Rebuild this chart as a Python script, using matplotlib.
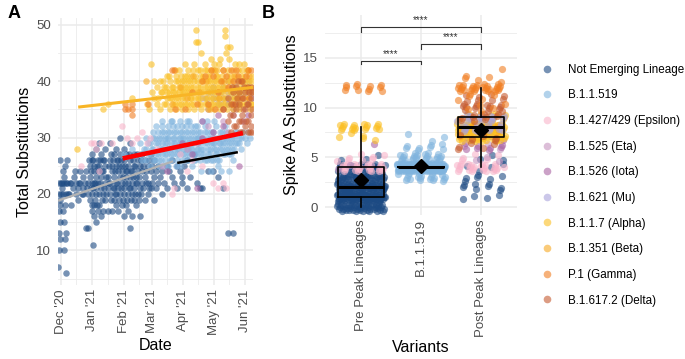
import numpy as np
import pandas as pd
import matplotlib
matplotlib.use("Agg")
import matplotlib.pyplot as plt
import matplotlib.dates as mdates
from matplotlib.lines import Line2D

plt.rcParams['font.family'] = ['Liberation Sans', 'DejaVu Sans']

# ---------------- data ----------------
lineages = ["Not Emerging Lineage", "B.1.1.519", "B.1.427/429 (Epsilon)", "B.1.525 (Eta)",
            "B.1.526 (Iota)", "B.1.621 (Mu)", "B.1.1.7 (Alpha)", "B.1.351 (Beta)",
            "P.1 (Gamma)", "B.1.617.2 (Delta)"]
colors = ["#1C4A83", "#80B4DE", "#F9B4CA", "#C694BF", "#A962A2", "#A9A2DB",
          "#FBBF22", "#F8A922", "#F17E22", "#C65B30"]

start_date = "2020-12-01"   # panel A: (days since start_date, total substitutions)
ne_pts = [(-3, 7), (-2, 10), (-2, 13), (-2, 17), (-2, 20), (-2, 22), (-1, 12), (-1, 15), (-1, 18),
          (-1, 19), (-1, 26), (1, 21), (1, 22), (2, 17), (2, 20), (2, 24), (3, 10), (3, 15), (3, 22),
          (3, 23), (4, 12), (4, 18), (4, 25), (5, 6), (5, 13), (5, 20), (5, 22), (6, 22), (6, 26),
          (8, 20), (10, 18), (10, 22), (13, 23), (15, 22), (15, 20), (17, 19), (17, 21), (19, 24),
          (19, 22), (22, 21), (22, 20), (22, 23), (25, 14), (25, 24), (27, 14), (27, 22), (27, 20),
          (29, 19), (29, 23), (29, 25), (31, 22), (31, 20), (31, 17), (31, 18), (31, 26), (31, 27),
          (32, 11), (32, 21), (32, 26), (33, 18), (33, 16), (33, 22), (33, 24), (33, 25), (35, 15),
          (35, 20), (35, 21), (35, 23), (35, 28), (37, 17), (37, 22), (37, 24), (37, 26), (38, 20),
          (38, 18), (38, 25), (38, 29), (40, 16), (40, 21), (40, 23), (40, 27), (42, 17), (42, 20),
          (42, 24), (42, 26), (44, 19), (44, 22), (44, 25), (44, 28), (46, 17), (46, 21), (46, 23),
          (48, 20), (48, 22), (48, 26), (48, 29), (50, 17), (50, 24), (50, 25), (52, 19), (52, 21),
          (52, 23), (52, 27), (54, 18), (54, 20), (54, 22), (54, 25), (54, 28), (56, 17), (56, 21),
          (56, 24), (56, 26), (58, 20), (58, 23), (58, 27), (58, 30), (60, 18), (60, 22), (60, 24),
          (60, 25), (62, 16), (62, 20), (62, 21), (62, 26), (62, 28), (64, 18), (64, 23), (64, 24),
          (64, 27), (66, 17), (66, 20), (66, 22), (66, 25), (68, 14), (68, 21), (68, 23), (68, 26),
          (68, 29), (70, 16), (70, 20), (70, 22), (70, 24), (72, 19), (72, 21), (72, 25), (72, 27),
          (74, 18), (74, 22), (74, 23), (76, 20), (76, 24), (76, 26), (78, 16), (78, 21), (78, 25),
          (80, 22), (80, 24), (80, 27), (83, 19), (83, 23), (83, 26), (86, 20), (86, 22), (86, 25),
          (89, 21), (89, 24), (89, 27), (92, 19), (92, 23), (92, 26), (96, 22), (96, 25), (100, 20),
          (100, 24), (105, 21), (105, 25), (110, 23), (110, 26), (115, 21), (115, 25), (120, 22),
          (120, 23), (125, 21), (125, 26), (132, 27), (140, 21), (150, 24), (165, 13), (170, 13),
          (30, 21), (30, 24), (34, 19), (34, 22), (36, 18), (36, 25), (39, 22), (39, 26), (41, 19),
          (41, 24), (43, 21), (43, 26), (45, 20), (45, 23), (47, 22), (47, 25), (49, 19), (49, 27),
          (51, 21), (51, 26), (53, 20), (53, 24), (55, 22), (55, 26), (57, 19), (57, 25), (59, 21),
          (59, 26), (61, 19), (61, 23), (63, 22), (63, 25), (65, 19), (65, 24), (67, 21), (67, 27),
          (69, 19), (69, 24), (71, 23), (71, 26), (73, 20), (73, 25), (75, 22), (75, 27), (77, 19),
          (77, 23), (79, 20), (79, 26), (81, 21), (81, 25), (84, 22), (84, 24), (87, 21), (87, 26),
          (90, 22), (90, 25), (94, 21), (94, 24), (98, 23), (102, 22), (107, 24), (112, 22),
          (118, 24), (122, 25), (128, 23), (135, 22), (138, 21), (145, 24), (155, 23), (160, 21),
          (12, 21), (14, 24), (18, 22), (21, 20), (24, 22), (26, 21), (28, 26), (7, 20), (9, 22),
          (0, 22), (0, 20)]
b519_pts = [(62, 27), (70, 28), (78, 27), (78, 29), (84, 26), (84, 28), (84, 30), (88, 25), (88, 27),
            (88, 29), (91, 26), (91, 28), (91, 30), (91, 31), (94, 27), (94, 29), (94, 32), (97, 25),
            (97, 26), (97, 28), (97, 30), (100, 27), (100, 28), (100, 29), (100, 31), (100, 33),
            (103, 26), (103, 27), (103, 29), (103, 30), (106, 25), (106, 28), (106, 30), (106, 31),
            (106, 32), (109, 26), (109, 27), (109, 29), (109, 33), (112, 28), (112, 29), (112, 30),
            (112, 31), (115, 26), (115, 27), (115, 28), (115, 32), (118, 25), (118, 29), (118, 30),
            (118, 31), (118, 33), (121, 27), (121, 28), (121, 29), (121, 30), (124, 26), (124, 28),
            (124, 31), (124, 32), (127, 27), (127, 29), (127, 30), (127, 33), (130, 25), (130, 28),
            (130, 29), (130, 31), (133, 26), (133, 27), (133, 30), (133, 32), (136, 28), (136, 29),
            (136, 30), (136, 31), (139, 24), (139, 27), (139, 28), (139, 30), (142, 26), (142, 29),
            (142, 31), (142, 32), (145, 27), (145, 28), (145, 30), (148, 24), (148, 26), (148, 29),
            (148, 31), (151, 28), (151, 29), (151, 30), (151, 33), (154, 26), (154, 27), (154, 30),
            (157, 28), (157, 29), (157, 31), (160, 27), (160, 29), (160, 30), (163, 28), (163, 30),
            (163, 31), (166, 24), (166, 27), (166, 29), (169, 28), (169, 30), (172, 29), (172, 31),
            (176, 30), (176, 29), (182, 30), (187, 30),
            (80, 26), (82, 28), (86, 27), (86, 29), (90, 28), (93, 26), (93, 30), (96, 27), (96, 29),
            (96, 31), (99, 26), (99, 28), (99, 30), (102, 28), (102, 31), (102, 25), (105, 27),
            (105, 29), (105, 30), (108, 26), (108, 28), (108, 31), (111, 27), (111, 30), (111, 32),
            (114, 25), (114, 29), (114, 31), (117, 27), (117, 28), (117, 30), (120, 26), (120, 29),
            (120, 31), (120, 32), (123, 27), (123, 30), (126, 26), (126, 28), (126, 29), (126, 31),
            (129, 27), (129, 28), (129, 30), (129, 32), (132, 26), (132, 29), (132, 31), (135, 27),
            (135, 28), (135, 30), (135, 32), (138, 26), (138, 29), (138, 31), (141, 27), (141, 28),
            (141, 30), (144, 26), (144, 29), (144, 31), (144, 33), (147, 27), (147, 28), (147, 30),
            (150, 26), (150, 29), (150, 31), (153, 27), (153, 28), (153, 32), (156, 26), (156, 29),
            (156, 30), (159, 28), (159, 31), (162, 27), (162, 29), (162, 32), (165, 28), (165, 30),
            (168, 27), (168, 29), (171, 28), (171, 30), (174, 29), (174, 31), (178, 28), (178, 30),
            (180, 31), (184, 29), (185, 31), (170, 26), (158, 24), (155, 25), (100, 32), (110, 33),
            (125, 33), (140, 33)]
eps_pts = [(20, 25), (30, 29), (33, 29), (35, 28), (38, 24), (40, 29), (50, 29), (60, 32), (65, 30),
           (70, 29), (75, 30), (80, 31), (85, 29), (88, 30), (95, 28), (110, 20), (112, 21),
           (118, 27), (125, 24), (130, 26), (140, 25), (150, 22), (155, 21), (160, 22), (163, 21)]
eta_pts = [(100, 25), (125, 28), (135, 29), (145, 32), (150, 30), (160, 33), (165, 31), (170, 34)]
iota_pts = [(105, 24), (120, 29), (130, 27), (135, 21), (140, 30), (140, 33), (150, 31), (155, 34),
            (160, 32), (170, 35), (176, 25), (180, 33), (145, 35), (165, 36), (185, 34)]
mu_pts = [(140, 37), (145, 38), (145, 36), (150, 39), (150, 37), (155, 36), (155, 38), (160, 37),
          (160, 39), (165, 36), (165, 38), (165, 40), (170, 37), (170, 39), (175, 36), (175, 38),
          (180, 37), (180, 39), (185, 36), (185, 38), (185, 40), (189, 37),
          (143, 37), (148, 38), (153, 37), (158, 38), (163, 37), (168, 38), (173, 37), (178, 38),
          (183, 37), (188, 38), (158, 36), (172, 39)]
alpha_pts = [(16, 28), (42, 35), (46, 36), (70, 37), (85, 36), (87, 35), (89, 43), (90, 38), (92, 37),
             (92, 40), (95, 39), (95, 36), (98, 40), (98, 35), (100, 38), (102, 36), (102, 39),
             (105, 37), (105, 38), (105, 41), (108, 35), (108, 37), (108, 40), (111, 36), (111, 38),
             (111, 39), (114, 35), (114, 37), (114, 40), (114, 41), (117, 36), (117, 38), (117, 39),
             (117, 42), (120, 35), (120, 37), (120, 38), (120, 40), (123, 36), (123, 37), (123, 39),
             (123, 41), (123, 43), (126, 35), (126, 38), (126, 40), (126, 42), (129, 36), (129, 37),
             (129, 39), (129, 41), (132, 35), (132, 38), (132, 40), (132, 43), (134, 49), (134, 47),
             (136, 36), (136, 37), (136, 39), (136, 42), (136, 47), (139, 35), (139, 38), (139, 40),
             (139, 41), (139, 45), (142, 36), (142, 37), (142, 39), (142, 42), (142, 43), (145, 35),
             (145, 38), (145, 40), (145, 41), (148, 36), (148, 37), (148, 39), (148, 42), (148, 44),
             (151, 35), (151, 38), (151, 40), (151, 43), (154, 36), (154, 37), (154, 39), (154, 41),
             (154, 42), (157, 35), (157, 38), (157, 40), (157, 44), (160, 36), (160, 37), (160, 39),
             (160, 42), (162, 48), (162, 49), (164, 35), (164, 38), (164, 41), (164, 46), (167, 36),
             (167, 37), (167, 40), (167, 46), (170, 35), (170, 38), (170, 39), (170, 42), (173, 36),
             (173, 37), (173, 41), (176, 35), (176, 38), (176, 40), (176, 43), (179, 36), (179, 39),
             (179, 42), (182, 37), (182, 40), (182, 41), (185, 38), (185, 39), (185, 42), (188, 36),
             (188, 40),
             (96, 37), (99, 38), (101, 40), (104, 36), (104, 39), (107, 38), (107, 41), (110, 37),
             (110, 39), (113, 36), (113, 38), (113, 42), (116, 37), (116, 40), (119, 36), (119, 39),
             (119, 41), (122, 38), (122, 40), (125, 36), (125, 39), (125, 41), (128, 37), (128, 38),
             (128, 40), (131, 36), (131, 39), (131, 42), (133, 37), (133, 41), (135, 38), (135, 40),
             (138, 36), (138, 37), (138, 39), (138, 42), (141, 38), (141, 40), (141, 41), (144, 36),
             (144, 37), (144, 39), (144, 42), (147, 38), (147, 40), (147, 41), (150, 36), (150, 37),
             (150, 39), (150, 42), (153, 38), (153, 40), (153, 41), (156, 36), (156, 37), (156, 39),
             (156, 43), (159, 38), (159, 40), (159, 41), (162, 36), (162, 37), (162, 39), (163, 45),
             (165, 40), (165, 42), (166, 44), (168, 38), (168, 41), (169, 36), (171, 37), (171, 40),
             (172, 43), (174, 38), (174, 39), (175, 42), (177, 36), (177, 37), (178, 41), (180, 38),
             (180, 40), (181, 43), (183, 36), (183, 39), (184, 42), (186, 37), (186, 40), (187, 35),
             (189, 39), (189, 41), (189, 36)]
beta_pts = [(84, 40), (110, 36), (118, 39), (125, 37), (131, 41), (137, 38), (143, 40), (147, 35),
            (152, 42), (156, 37), (161, 40), (166, 39), (171, 41), (175, 37), (178, 40), (183, 39),
            (186, 41), (189, 38)]
gamma_pts = [(63, 35), (63, 36), (66, 35), (70, 34), (70, 35), (70, 36), (86, 36), (110, 42),
             (112, 42), (113, 35), (123, 35), (130, 38), (140, 40), (145, 36), (150, 41), (155, 38),
             (160, 42), (160, 35), (165, 39), (170, 40), (170, 36), (175, 41), (180, 37), (185, 42),
             (135, 36), (142, 41), (148, 42), (158, 40), (163, 41), (168, 42), (173, 42), (178, 40),
             (183, 41), (188, 42), (186, 37), (152, 35)]
delta_pts = [(160, 35), (165, 33), (165, 37), (168, 31), (168, 36), (170, 38), (170, 34), (173, 32),
             (173, 35), (173, 39), (176, 33), (176, 36), (176, 38), (179, 31), (179, 34), (179, 37),
             (179, 40), (182, 32), (182, 35), (182, 38), (185, 31), (185, 33), (185, 36), (185, 39),
             (188, 32), (188, 34), (188, 37), (189, 31), (189, 35), (189, 38),
             (167, 34), (171, 32), (174, 37), (177, 31), (180, 35), (183, 33), (186, 38), (187, 31),
             (184, 36), (181, 39), (178, 33), (172, 36), (169, 39), (175, 40), (188, 39)]
panel_a_pts = [ne_pts, b519_pts, eps_pts, eta_pts, iota_pts, mu_pts, alpha_pts, beta_pts,
               gamma_pts, delta_pts]

# fitted trend lines: (start day, start value, end day, end value)
trend_gray = (-3.5, 18.8, 111, 25.8)
trend_black = (115, 25.5, 175, 27.4)
trend_red = (61, 26.3, 180, 30.8)
trend_yellow = (17, 35.4, 190, 38.9)

# panel B: (lineage index, spike AA substitutions, count)
groups = ["Pre Peak Lineages", "B.1.1.519", "Post Peak Lineages"]
pre_peak = [(0, 0, 50), (0, 1, 90), (0, 2, 70), (0, 3, 45), (0, 4, 20), (0, 5, 3),
            (2, 4, 25), (2, 5, 8), (3, 4, 2), (4, 6, 1),
            (6, 7, 5), (6, 8, 18), (8, 12, 12)]
b519_grp = [(1, 3, 20), (1, 4, 160), (1, 5, 25), (1, 6, 8), (1, 7, 3)]
post_peak = [(0, 1, 4), (0, 2, 8), (0, 3, 6), (0, 4, 4), (0, 5, 3),
             (2, 4, 25), (2, 5, 5), (3, 5, 3), (3, 6, 3), (4, 6, 8), (4, 7, 4),
             (6, 7, 40), (6, 8, 60), (6, 9, 20), (7, 7, 5), (7, 8, 10),
             (5, 8, 15), (5, 9, 15),
             (9, 6, 5), (9, 7, 5), (9, 9, 10), (9, 10, 15), (9, 11, 8),
             (8, 10, 5), (8, 11, 5), (8, 12, 28), (8, 13, 5), (8, 14, 1)]
comparisons = [(1, 2, 14.4, 14.7), (2, 3, 15.9, 16.4), (1, 3, 17.6, 18.1)]
sig_label = "****"

# ---------------- figure ----------------
fig = plt.figure(figsize=(6.85, 3.59), dpi=100)
axA = fig.add_axes([58 / 685, 1 - 285 / 359, 195 / 685, 267 / 359])
axB = fig.add_axes([325 / 685, 1 - 215 / 359, 192 / 685, 200 / 359])

grid_c = "#EBEBEB"
tick_c = "#4D4D4D"
for ax in (axA, axB):
    ax.set_axisbelow(True)
    for s in ax.spines.values():
        s.set_visible(False)
    ax.tick_params(which="both", length=0, colors=tick_c, labelsize=9.5, pad=5)
    ax.grid(True, which="major", color=grid_c, lw=1.1)
    ax.grid(True, which="minor", color=grid_c, lw=0.6)

# panel A
base = np.datetime64(start_date)
for pts, col in zip(panel_a_pts, colors):
    d = np.array(pts)
    dates = base + d[:, 0].astype("timedelta64[D]")
    axA.scatter(dates, d[:, 1], s=22, color=col, alpha=0.6, lw=0, zorder=2)

for tr, col, lw in [(trend_gray, "#B3B3B3", 1.6), (trend_black, "black", 1.8),
                    (trend_red, "red", 3.3), (trend_yellow, "#F8B526", 2.2)]:
    xs = base + np.array([tr[0], tr[2]]).astype("timedelta64[D]")
    axA.plot(xs, [tr[1], tr[3]], color=col, lw=lw, solid_capstyle="butt", zorder=3)

axA.set_xlim(base + np.timedelta64(-3, "D"), base + np.timedelta64(190, "D"))
axA.set_ylim(3.85, 51.2)
axA.set_yticks([10, 20, 30, 40, 50])
axA.set_yticks([5, 15, 25, 35, 45], minor=True)
axA.xaxis.set_major_locator(mdates.MonthLocator())
axA.xaxis.set_minor_locator(mdates.DayLocator(bymonthday=16))
axA.xaxis.set_major_formatter(mdates.DateFormatter("%b '%y"))
axA.tick_params(axis="x", labelrotation=90, pad=3)
axA.set_xlabel("Date", fontsize=11.5, labelpad=2)
axA.set_ylabel("Total Substitutions", fontsize=11.5, labelpad=3)

# panel B
def golden_spread(n, start):
    # deterministic quasi-uniform offsets standing in for ggplot's jitter
    i = np.arange(start, start + n)
    return ((0.5 + i * 0.7548776662) % 1 - 0.5) * 0.8, ((0.5 + i * 0.5698402910) % 1 - 0.5) * 0.8

all_vals = []
for gi, grp in enumerate([pre_peak, b519_grp, post_peak]):
    vals = []
    k = 0
    for lin, v, c in grp:
        dx, dy = golden_spread(c, k + 37 * gi)
        k += c
        axB.scatter(gi + 1 + dx, v + dy, s=27, color=colors[lin], alpha=0.6, lw=0, zorder=2)
        vals += [v] * c
    all_vals.append(vals)

axB.boxplot(all_vals, positions=[1, 2, 3], widths=0.77, whis=1.5, showfliers=False,
            showmeans=True, showcaps=False, patch_artist=False,
            boxprops=dict(color="black", lw=1.2),
            whiskerprops=dict(color="black", lw=1.2),
            medianprops=dict(color="black", lw=2.2),
            meanprops=dict(marker="D", markerfacecolor="black", markeredgecolor="black",
                           markersize=7), zorder=4)

for a, b, ylo, yhi in comparisons:
    axB.plot([a, a, b, b], [ylo, yhi, yhi, ylo], color="#333333", lw=0.8, zorder=3)
    axB.text((a + b) / 2, yhi + 0.15, sig_label, ha="center", va="bottom", fontsize=7,
             color="#333333")

axB.set_xlim(0.4, 3.6)
axB.set_ylim(-0.8, 19.3)
axB.set_xticks([1, 2, 3])
axB.set_xticklabels(groups, rotation=90)
axB.set_yticks([0, 5, 10, 15])
axB.set_yticks([2.5, 7.5, 12.5, 17.5], minor=True)
axB.tick_params(axis="x", pad=3)
axB.set_xlabel("Variants", fontsize=11.5, labelpad=2)
axB.set_ylabel("Spike AA Substitutions", fontsize=11.5, labelpad=3)

# legend
handles = [Line2D([], [], marker="o", ls="", color=c, alpha=0.6, markersize=5.5, mew=0)
           for c in colors]
fig.legend(handles, lineages, loc="upper left", bbox_to_anchor=(536 / 685, 1 - 59 / 359),
           frameon=False, fontsize=8.4, labelspacing=1.17, handletextpad=1.35, handlelength=1.0,
           borderaxespad=0)

fig.text(8 / 685, 1 - 13 / 359, "A", fontsize=13, fontweight="bold", va="center")
fig.text(262 / 685, 1 - 13 / 359, "B", fontsize=13, fontweight="bold", va="center")

fig.savefig("out.png", dpi=100)
